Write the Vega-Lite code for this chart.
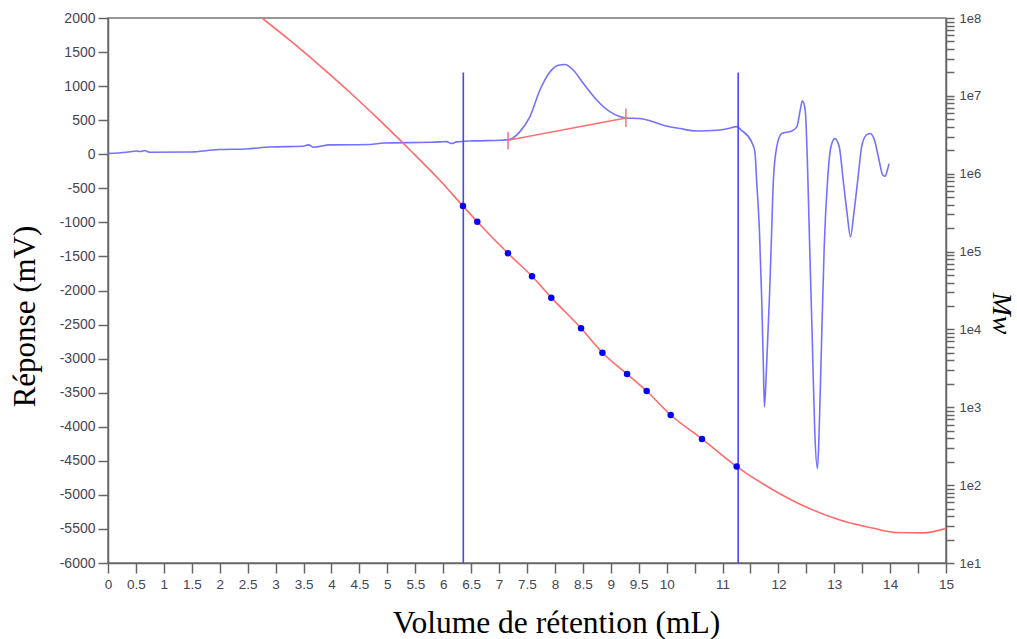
{
  "$schema": "https://vega.github.io/schema/vega-lite/v6.json",
  "width": 838,
  "height": 545,
  "autosize": {"type": "none"},
  "padding": {"left": 108, "top": 18, "right": 71, "bottom": 76},
  "background": "white",
  "config": {
    "view": {"stroke": "#777777", "strokeWidth": 1.5},
    "axis": {
      "grid": false,
      "labelFont": "Liberation Sans",
      "labelFontSize": 13.5,
      "labelColor": "#444455",
      "domainColor": "#666666",
      "domainWidth": 1.5,
      "tickColor": "#666666",
      "tickWidth": 1.5,
      "titleFont": "Liberation Serif",
      "titleFontWeight": "normal",
      "titleColor": "#000000",
      "labelFlush": false,
      "labelOverlap": false,
      "labelSeparation": 0
    }
  },
  "datasets": {
    "signal": [
      {"v": 0.0, "mv": 10}, {"v": 0.33, "mv": 29}, {"v": 0.51, "mv": 48}, {"v": 0.58, "mv": 40}, {"v": 0.66, "mv": 54},
      {"v": 0.75, "mv": 29}, {"v": 1.47, "mv": 34}, {"v": 1.98, "mv": 69}, {"v": 2.48, "mv": 78}, {"v": 2.9, "mv": 107},
      {"v": 3.49, "mv": 117}, {"v": 3.59, "mv": 137}, {"v": 3.68, "mv": 103}, {"v": 3.97, "mv": 137}, {"v": 4.69, "mv": 143},
      {"v": 4.93, "mv": 166}, {"v": 5.76, "mv": 176}, {"v": 5.94, "mv": 181}, {"v": 6.06, "mv": 186}, {"v": 6.15, "mv": 157},
      {"v": 6.24, "mv": 181}, {"v": 6.54, "mv": 196}, {"v": 7.02, "mv": 205}, {"v": 7.18, "mv": 215}, {"v": 7.37, "mv": 328},
      {"v": 7.55, "mv": 548}, {"v": 7.73, "mv": 940}, {"v": 7.91, "mv": 1208}, {"v": 8.06, "mv": 1306}, {"v": 8.18, "mv": 1317},
      {"v": 8.33, "mv": 1233}, {"v": 8.51, "mv": 1038}, {"v": 8.75, "mv": 793}, {"v": 8.99, "mv": 621}, {"v": 9.27, "mv": 533},
      {"v": 9.52, "mv": 524}, {"v": 9.67, "mv": 499}, {"v": 9.94, "mv": 426}, {"v": 10.24, "mv": 377}, {"v": 10.54, "mv": 342},
      {"v": 10.9, "mv": 352}, {"v": 11.1, "mv": 377}, {"v": 11.25, "mv": 405}, {"v": 11.34, "mv": 352}, {"v": 11.52, "mv": 181},
      {"v": 11.58, "mv": 34}, {"v": 11.61, "mv": -382}, {"v": 11.66, "mv": -1116}, {"v": 11.7, "mv": -2095}, {"v": 11.73, "mv": -3073},
      {"v": 11.75, "mv": -3710}, {"v": 11.79, "mv": -3073}, {"v": 11.84, "mv": -2095}, {"v": 11.88, "mv": -1116}, {"v": 11.91, "mv": -382},
      {"v": 11.97, "mv": 107}, {"v": 12.06, "mv": 304}, {"v": 12.24, "mv": 342}, {"v": 12.33, "mv": 401}, {"v": 12.39, "mv": 646},
      {"v": 12.43, "mv": 783}, {"v": 12.48, "mv": 646}, {"v": 12.52, "mv": -137}, {"v": 12.56, "mv": -1361}, {"v": 12.61, "mv": -2829},
      {"v": 12.65, "mv": -4052}, {"v": 12.7, "mv": -4615}, {"v": 12.73, "mv": -4052}, {"v": 12.77, "mv": -2829}, {"v": 12.82, "mv": -1361},
      {"v": 12.88, "mv": -382}, {"v": 12.94, "mv": 107}, {"v": 13.01, "mv": 230}, {"v": 13.09, "mv": 107}, {"v": 13.16, "mv": -382},
      {"v": 13.23, "mv": -871}, {"v": 13.29, "mv": -1214}, {"v": 13.35, "mv": -871}, {"v": 13.42, "mv": -382}, {"v": 13.49, "mv": 107},
      {"v": 13.57, "mv": 279}, {"v": 13.64, "mv": 304}, {"v": 13.72, "mv": 206}, {"v": 13.79, "mv": -40}, {"v": 13.87, "mv": -308},
      {"v": 13.91, "mv": -323}, {"v": 13.95, "mv": -235}, {"v": 13.98, "mv": -137}
    ],
    "markers": [
      {"v": 6.36, "mv": 1200, "mv2": -6000},
      {"v": 11.28, "mv": 1200, "mv2": -6000}
    ],
    "baseline": [
      {"v": 7.16, "mv": 205, "v2": 9.27, "mv2": 533}
    ],
    "bticks": [
      {"v": 7.16, "mv": 69, "mv2": 327},
      {"v": 9.27, "mv": 401, "mv2": 671}
    ],
    "calib": [
      {"v": 2.757, "mw": 100000000}, {"v": 3.258, "mw": 51500000}, {"v": 3.795, "mw": 24270000}, {"v": 4.332, "mw": 11040000},
      {"v": 4.869, "mw": 4810000}, {"v": 5.406, "mw": 2014000}, {"v": 5.943, "mw": 817000}, {"v": 6.354, "mw": 384600},
      {"v": 6.61, "mw": 242100}, {"v": 7.159, "mw": 95100}, {"v": 7.59, "mw": 48100}, {"v": 7.935, "mw": 25600},
      {"v": 8.468, "mw": 10330}, {"v": 8.85, "mw": 5020}, {"v": 9.291, "mw": 2670}, {"v": 9.642, "mw": 1620},
      {"v": 10.072, "mw": 796}, {"v": 10.632, "mw": 392}, {"v": 11.253, "mw": 173}, {"v": 11.908, "mw": 86.7},
      {"v": 12.506, "mw": 51.9}, {"v": 13.102, "mw": 35.6}, {"v": 13.699, "mw": 27.9}, {"v": 14.117, "mw": 24.6},
      {"v": 14.594, "mw": 24.4}, {"v": 15.0, "mw": 27.9}
    ],
    "points": [
      {"v": 6.354, "mw": 384600}, {"v": 6.61, "mw": 242100}, {"v": 7.159, "mw": 95100}, {"v": 7.59, "mw": 48100},
      {"v": 7.935, "mw": 25600}, {"v": 8.468, "mw": 10330}, {"v": 8.85, "mw": 5020}, {"v": 9.291, "mw": 2670},
      {"v": 9.642, "mw": 1620}, {"v": 10.072, "mw": 796}, {"v": 10.632, "mw": 392}, {"v": 11.253, "mw": 173}
    ]
  },
  "encoding": {
    "x": {
      "field": "v", "type": "quantitative",
      "scale": {"domain": [0, 15], "nice": false, "zero": false},
      "axis": {
        "title": "Volume de rétention (mL)",
        "titleFontSize": 31.5,
        "titleX": 448,
        "titleY": 69,
        "titleBaseline": "alphabetic",
        "tickSize": 10,
        "labelPadding": 4,
        "labelOverlap": false,
        "labelSeparation": 0,
        "labelFontSize": 13.5,
        "values": [0,0.5,1,1.5,2,2.5,3,3.5,4,4.5,5,5.5,6,6.5,7,7.5,8,8.5,9,9.5,10,10.5,11,11.5,12,12.5,13,13.5,14,14.5,15],
        "labelExpr": "(datum.value <= 10 || datum.value % 1 == 0) ? ('' + datum.value) : ''"
      }
    }
  },
  "layer": [
    {
      "encoding": {
        "y": {
          "field": "mv", "type": "quantitative",
          "scale": {"domain": [-6000, 2000], "nice": false, "zero": false},
          "axis": {
            "title": "Réponse (mV)",
            "titleFontSize": 31,
            "titleX": -83,
            "titleY": 298,
            "titleBaseline": "middle",
            "tickSize": 10,
            "labelPadding": 3,
            "labelOverlap": false,
            "labelSeparation": 0,
            "labelFontSize": 14,
            "values": [-6000,-5500,-5000,-4500,-4000,-3500,-3000,-2500,-2000,-1500,-1000,-500,0,500,1000,1500,2000],
            "labelExpr": "'' + datum.value"
          }
        }
      },
      "layer": [
        {
          "data": {"name": "signal"},
          "mark": {"type": "line", "color": "#7272ff", "strokeWidth": 1.6, "clip": true, "interpolate": "monotone"}
        },
        {
          "data": {"name": "markers"},
          "mark": {"type": "rule", "color": "#4545ff", "strokeWidth": 1.6},
          "encoding": {"y2": {"field": "mv2"}}
        },
        {
          "data": {"name": "baseline"},
          "mark": {"type": "rule", "color": "#ff6f6f", "strokeWidth": 1.5},
          "encoding": {"x2": {"field": "v2"}, "y2": {"field": "mv2"}}
        },
        {
          "data": {"name": "bticks"},
          "mark": {"type": "rule", "color": "#ff6f6f", "strokeWidth": 1.5},
          "encoding": {"y2": {"field": "mv2"}}
        }
      ]
    },
    {
      "encoding": {
        "y": {
          "field": "mw", "type": "quantitative",
          "scale": {"type": "log", "domain": [10, 100000000], "nice": false},
          "axis": {
            "orient": "right",
            "title": "Mw",
            "titleFontSize": 28,
            "titleFontStyle": "italic",
            "titleX": 54,
            "titleY": 295,
            "titleBaseline": "middle",
            "tickSize": 8,
            "labelPadding": 5,
            "labelFontSize": 13,
            "labelOverlap": false,
            "values": [10,20,30,40,50,60,70,80,90,100,200,300,400,500,600,700,800,900,1000,2000,3000,4000,5000,6000,7000,8000,9000,10000,20000,30000,40000,50000,60000,70000,80000,90000,100000,200000,300000,400000,500000,600000,700000,800000,900000,1000000,2000000,3000000,4000000,5000000,6000000,7000000,8000000,9000000,10000000,20000000,30000000,40000000,50000000,60000000,70000000,80000000,90000000,100000000],
            "labelExpr": "abs(log(datum.value)/log(10) - round(log(datum.value)/log(10))) < 0.001 ? ('1e' + round(log(datum.value)/log(10))) : ''"
          }
        }
      },
      "layer": [
        {
          "data": {"name": "calib"},
          "mark": {"type": "line", "color": "#ff6b6b", "strokeWidth": 1.6, "clip": true, "interpolate": "monotone"}
        },
        {
          "data": {"name": "points"},
          "mark": {"type": "point", "filled": true, "color": "#0000ff", "opacity": 1, "size": 42}
        }
      ]
    }
  ],
  "resolve": {"scale": {"y": "independent"}}
}
